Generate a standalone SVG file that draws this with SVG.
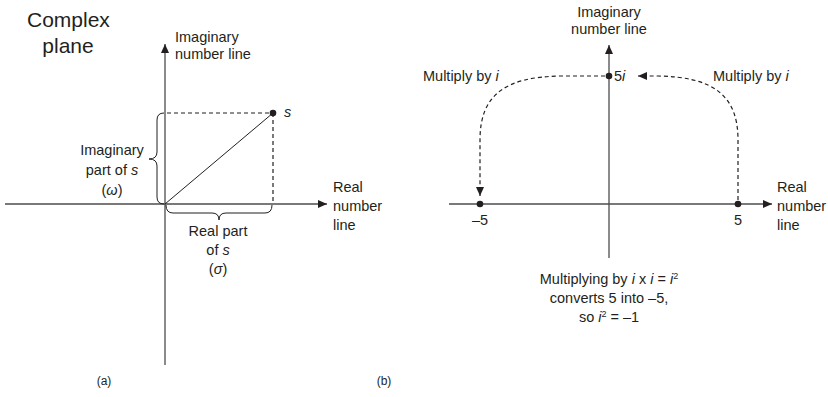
<svg xmlns="http://www.w3.org/2000/svg" width="828" height="397" viewBox="0 0 828 397">
<style>
text{font-family:"Liberation Sans",Arial,sans-serif;font-size:14.5px;fill:#231f20}
.c{text-anchor:middle}
.it{font-style:italic}
.ax{stroke:#4d4d4d;stroke-width:1.3;fill:none}
.th{stroke:#231f20;stroke-width:1;fill:none}
.ds{stroke:#231f20;stroke-width:1.2;fill:none;stroke-dasharray:4 3}
.dot{fill:#231f20}
</style>
<defs>
<marker id="ah" viewBox="0 0 10 10" refX="10" refY="5" markerWidth="9" markerHeight="8" markerUnits="userSpaceOnUse" orient="auto" preserveAspectRatio="none">
<path d="M0,0 L10,5 L0,10 z" fill="#231f20"/>
</marker>
</defs>
<text x="27" y="27" style="font-size:21px">Complex</text>
<text x="68" y="53" class="c" style="font-size:21px">plane</text>
<g id="connectors">
<line class="ax" x1="165" y1="365" x2="165" y2="44" marker-end="url(#ah)"/>
<line class="ax" x1="5" y1="204" x2="327" y2="204" marker-end="url(#ah)"/>
<line class="th" x1="165" y1="204" x2="273" y2="113"/>
<line class="ds" x1="167" y1="113" x2="273" y2="113"/>
<line class="ds" x1="273" y1="113" x2="273" y2="204"/>
<path class="th" d="M164,113 Q157,113 157,120 V152 Q157,159 149,159 Q157,159 157,166 V197 Q157,204 164,204"/>
<path class="th" d="M166,205 Q166,213 173,213 H212 Q219,213 219,220 Q219,213 226,213 H265 Q272,213 272,205"/>
<line class="ax" x1="609" y1="258" x2="609" y2="45" marker-end="url(#ah)"/>
<line class="ax" x1="449" y1="204" x2="772" y2="204" marker-end="url(#ah)"/>
<path class="ds" d="M605,76 H560 C505,77 480,95 480,140 V196" marker-end="url(#ah)"/>
<path class="ds" d="M738,200 V140 C738,95 713,77 658,76 H638" marker-end="url(#ah)"/>
</g>
<g id="s-point"><circle class="dot" cx="273" cy="113" r="3.3"/><text x="284" y="117" class="it">s</text></g>
<g id="imag-axis-a"><text x="175" y="42">Imaginary</text><text x="175" y="59">number line</text></g>
<g id="real-axis-a"><text x="333" y="192">Real</text><text x="333" y="211">number</text><text x="333" y="230">line</text></g>
<g id="imag-part"><text x="112" y="155" class="c">Imaginary</text><text x="112" y="175" class="c">part of <tspan class="it">s</tspan></text><text x="112" y="195" class="c">(<tspan class="it">ω</tspan>)</text></g>
<g id="real-part"><text x="218" y="236" class="c">Real part</text><text x="218" y="255" class="c">of <tspan class="it">s</tspan></text><text x="218" y="274" class="c">(<tspan class="it">σ</tspan>)</text></g>
<text x="104" y="385" class="c" style="font-size:12px">(a)</text>
<g id="imag-axis-b"><text x="609" y="17" class="c">Imaginary</text><text x="609" y="34" class="c">number line</text></g>
<g id="real-axis-b"><text x="777" y="192">Real</text><text x="777" y="211">number</text><text x="777" y="230">line</text></g>
<g id="p5i"><circle class="dot" cx="609" cy="76" r="3.3"/><text x="614" y="81">5<tspan class="it">i</tspan></text></g>
<g id="pm5"><circle class="dot" cx="480" cy="204" r="3.3"/><text x="480" y="225" class="c">–5</text></g>
<g id="p5"><circle class="dot" cx="738" cy="204" r="3.3"/><text x="738" y="225" class="c">5</text></g>
<g id="mul-left"><text x="423" y="81">Multiply by <tspan class="it">i</tspan></text></g>
<g id="mul-right"><text x="713" y="81">Multiply by <tspan class="it">i</tspan></text></g>
<g id="note"><text x="609" y="284" class="c">Multiplying by <tspan class="it">i</tspan> x <tspan class="it">i</tspan> = <tspan class="it">i</tspan><tspan dy="-5" style="font-size:9px">2</tspan></text>
<text x="609" y="303" class="c">converts 5 into –5,</text>
<text x="609" y="322" class="c">so <tspan class="it">i</tspan><tspan dy="-5" style="font-size:9px">2</tspan><tspan dy="5"> = –1</tspan></text></g>
<text x="384" y="385" class="c" style="font-size:12px">(b)</text>
</svg>
